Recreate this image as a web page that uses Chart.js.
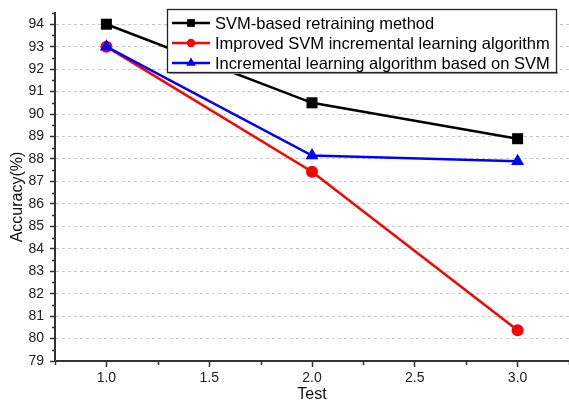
<!DOCTYPE html>
<html>
<head>
<meta charset="utf-8">
<script src="https://cdn.jsdelivr.net/npm/chart.js@4/dist/chart.umd.min.js"></script>
<style>
html,body{margin:0;padding:0;background:#fff;}
#wrap{width:569px;height:403px;}
</style>
</head>
<body>
<div id="wrap"><canvas id="c" width="569" height="403"></canvas></div>
<script>
const testValues = [1.0, 2.0, 3.0];
const seriesNames = [
  "SVM-based retraining method",
  "Improved SVM incremental learning algorithm",
  "Incremental learning algorithm based on SVM"
];
const retrainingAcc = [94.0, 90.5, 88.9];
const improvedAcc = [93.0, 87.43, 80.37];
const incrementalAcc = [93.0, 88.15, 87.9];
const xTickValues = [1.0, 1.5, 2.0, 2.5, 3.0];
const yTickValues = [79, 80, 81, 82, 83, 84, 85, 86, 87, 88, 89, 90, 91, 92, 93, 94];
const xTitle = "Test";
const yTitle = "Accuracy(%)";

const FONT = "'Liberation Sans', Arial, sans-serif";
const colors = ['#000000', '#ff0000', '#0000ff'];
const styles = ['rect', 'circle', 'triangle'];
const radii = [7.8, 6, 7.5];
const legendRadii = [5.5, 4.2, 5.5];

function pts(vals){ return testValues.map((x,i)=>({x:x, y:vals[i]})); }

function drawMarker(ctx, style, x, y, r, color){
  ctx.save();
  ctx.fillStyle = color;
  ctx.beginPath();
  if (style === 'rect') {
    const s = Math.SQRT1_2 * r;
    ctx.rect(x - s, y - s, 2*s, 2*s);
  } else if (style === 'circle') {
    ctx.arc(x, y, r, 0, Math.PI*2);
  } else {
    let a = 0;
    ctx.moveTo(x + Math.sin(a)*r, y - Math.cos(a)*r);
    a += 2*Math.PI/3;
    ctx.lineTo(x + Math.sin(a)*r, y - Math.cos(a)*r);
    a += 2*Math.PI/3;
    ctx.lineTo(x + Math.sin(a)*r, y - Math.cos(a)*r);
    ctx.closePath();
  }
  ctx.fill();
  ctx.restore();
}

const extrasPlugin = {
  id: 'extras',
  afterDatasetsDraw(chart){
    const ctx = chart.ctx;
    const xs = chart.scales.x, ys = chart.scales.y;
    const area = chart.chartArea;
    ctx.save();
    // minor ticks
    ctx.strokeStyle = '#333';
    ctx.lineWidth = 1.5;
    ctx.beginPath();
    for (let i = 0; i < yTickValues.length; i++) {
      const v = yTickValues[i] + 0.5;
      if (v > ys.max) break;
      const y = Math.round(ys.getPixelForValue(v)) + 0.5;
      ctx.moveTo(area.left - 3, y);
      ctx.lineTo(area.left, y);
    }
    const minorX = [0.75, 1.25, 1.75, 2.25, 2.75, 3.25];
    minorX.forEach(v => {
      const x = Math.round(xs.getPixelForValue(v)) + 0.5;
      ctx.moveTo(x, area.bottom);
      ctx.lineTo(x, area.bottom + 4);
    });
    ctx.stroke();

    // y axis title
    ctx.save();
    ctx.translate(18, (area.top + area.bottom) / 2 + 10);
    ctx.rotate(-Math.PI / 2);
    ctx.font = "16px " + FONT;
    ctx.fillStyle = '#111';
    ctx.textAlign = 'center';
    ctx.textBaseline = 'middle';
    ctx.fillText(yTitle, 0, 0);
    ctx.restore();

    // legend box
    const bx = 167, by = 9, bw = 389, bh = 63;
    ctx.fillStyle = '#9a9a9a';
    ctx.fillRect(bx + 2, by + bh, bw, 2);
    ctx.fillStyle = '#ffffff';
    ctx.fillRect(bx, by, bw, bh);
    ctx.strokeStyle = '#222';
    ctx.lineWidth = 1.3;
    ctx.strokeRect(bx + 0.5, by + 0.5, bw, bh);
    const rows = [23, 43, 63];
    ctx.font = "16.5px " + FONT;
    ctx.textBaseline = 'middle';
    ctx.textAlign = 'left';
    chart.data.datasets.forEach((ds, i) => {
      const y = rows[i];
      ctx.strokeStyle = colors[i];
      ctx.lineWidth = 2.5;
      ctx.beginPath();
      ctx.moveTo(172, y);
      ctx.lineTo(210, y);
      ctx.stroke();
      drawMarker(ctx, styles[i], 191, y, legendRadii[i], colors[i]);
      ctx.fillStyle = '#000';
      ctx.fillText(ds.label, 215, y + 1);
    });
    ctx.restore();
  }
};

const datasets = [retrainingAcc, improvedAcc, incrementalAcc].map((vals, i) => ({
  label: seriesNames[i],
  data: pts(vals),
  borderColor: colors[i],
  backgroundColor: colors[i],
  borderWidth: 2.5,
  pointStyle: styles[i],
  pointRadius: radii[i],
  pointHoverRadius: radii[i],
  pointBorderWidth: 0,
  pointBackgroundColor: colors[i],
  tension: 0,
  fill: false,
  order: [0, 2, 1][i]
}));

new Chart(document.getElementById('c'), {
  type: 'line',
  data: { datasets: datasets },
  options: {
    responsive: false,
    animation: false,
    devicePixelRatio: 1,
    layout: { autoPadding: false, padding: { top: 13, left: 0, right: 0, bottom: 0 } },
    plugins: {
      legend: { display: false },
      tooltip: { enabled: false }
    },
    scales: {
      x: {
        type: 'linear',
        min: 0.75,
        max: 3.25,
        afterBuildTicks: (s) => { s.ticks = xTickValues.map(v => ({ value: v })); },
        afterFit: (s) => { s.height = 42; s.paddingLeft = 0; s.paddingRight = 0; },
        ticks: {
          callback: (v) => Number(v).toFixed(1),
          font: { family: FONT, size: 14 },
          color: '#222',
          padding: 3,
          maxRotation: 0,
          autoSkip: false
        },
        grid: {
          drawOnChartArea: false,
          drawTicks: true,
          tickLength: 6,
          tickColor: '#333',
          tickWidth: 1.5
        },
        border: { display: true, color: '#333', width: 2 },
        title: {
          display: true,
          text: xTitle,
          font: { family: FONT, size: 16, lineHeight: 1 },
          color: '#111',
          padding: { top: 0, bottom: 0 }
        }
      },
      y: {
        type: 'linear',
        min: 79,
        max: 94.5,
        afterBuildTicks: (s) => { s.ticks = yTickValues.map(v => ({ value: v })); },
        afterFit: (s) => { s.width = 55; s.paddingTop = 0; s.paddingBottom = 0; },
        ticks: {
          callback: (v) => String(v),
          font: { family: FONT, size: 14 },
          color: '#222',
          padding: 6,
          autoSkip: false
        },
        grid: {
          drawOnChartArea: true,
          drawTicks: true,
          tickLength: 5,
          color: (c) => (c.tick && c.tick.value === 79) ? 'rgba(0,0,0,0)' : '#c8c8c8',
          lineWidth: 1,
          tickColor: '#333',
          tickWidth: 1.5,
          tickBorderDash: []
        },
        border: { display: true, color: '#333', width: 2, dash: [3, 3] },
        title: { display: false }
      }
    }
  },
  plugins: [extrasPlugin]
});
</script>
</body>
</html>
